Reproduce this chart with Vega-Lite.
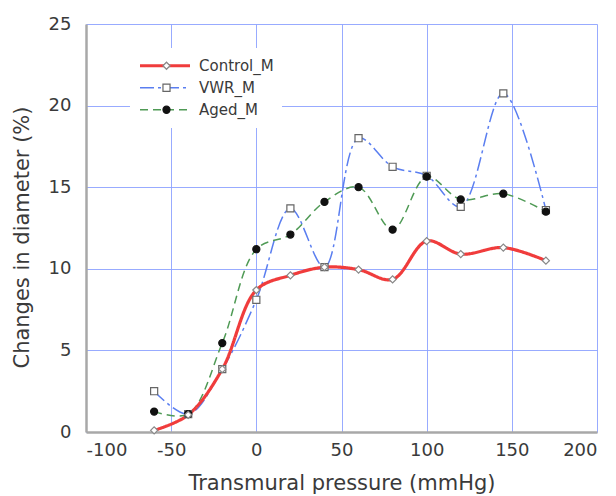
{
  "$schema": "https://vega.github.io/schema/vega-lite/v6.json",
  "width": 511,
  "height": 408,
  "autosize": "none",
  "padding": {"left": 86, "top": 24, "right": 19, "bottom": 64},
  "background": "white",
  "config": {
    "view": {"stroke": null},
    "font": "DejaVu Sans",
    "axis": {
      "gridColor": "#8da2ff",
      "gridWidth": 1,
      "gridOpacity": 0.9,
      "domainColor": "#a8a8a8",
      "domainWidth": 2.5,
      "ticks": false,
      "labelFont": "DejaVu Sans",
      "labelFontSize": 18,
      "labelColor": "#3a3a3a",
      "labelExpr": "replace(datum.label, '\u2212', '-')",
      "titleFont": "DejaVu Sans",
      "titleFontWeight": "normal",
      "titleColor": "#3a3a3a"
    }
  },
  "data": {
    "values": [
      {"series": "VWR_M", "p": -60, "d": 2.5},
      {"series": "VWR_M", "p": -40, "d": 1.1},
      {"series": "VWR_M", "p": -20, "d": 3.85},
      {"series": "VWR_M", "p": 0, "d": 8.1},
      {"series": "VWR_M", "p": 20, "d": 13.7},
      {"series": "VWR_M", "p": 40, "d": 10.1},
      {"series": "VWR_M", "p": 60, "d": 18.0},
      {"series": "VWR_M", "p": 80, "d": 16.25},
      {"series": "VWR_M", "p": 100, "d": 15.7},
      {"series": "VWR_M", "p": 120, "d": 13.8},
      {"series": "VWR_M", "p": 145, "d": 20.75},
      {"series": "VWR_M", "p": 170, "d": 13.6},
      {"series": "Aged_M", "p": -60, "d": 1.25},
      {"series": "Aged_M", "p": -40, "d": 1.1},
      {"series": "Aged_M", "p": -20, "d": 5.45},
      {"series": "Aged_M", "p": 0, "d": 11.2},
      {"series": "Aged_M", "p": 20, "d": 12.1},
      {"series": "Aged_M", "p": 40, "d": 14.1},
      {"series": "Aged_M", "p": 60, "d": 15.0},
      {"series": "Aged_M", "p": 80, "d": 12.4},
      {"series": "Aged_M", "p": 100, "d": 15.65},
      {"series": "Aged_M", "p": 120, "d": 14.25},
      {"series": "Aged_M", "p": 145, "d": 14.6},
      {"series": "Aged_M", "p": 170, "d": 13.5},
      {"series": "Control_M", "p": -60, "d": 0.1},
      {"series": "Control_M", "p": -40, "d": 1.05},
      {"series": "Control_M", "p": -20, "d": 3.85},
      {"series": "Control_M", "p": 0, "d": 8.7},
      {"series": "Control_M", "p": 20, "d": 9.6},
      {"series": "Control_M", "p": 40, "d": 10.1},
      {"series": "Control_M", "p": 60, "d": 9.95},
      {"series": "Control_M", "p": 80, "d": 9.35},
      {"series": "Control_M", "p": 100, "d": 11.7},
      {"series": "Control_M", "p": 120, "d": 10.9},
      {"series": "Control_M", "p": 145, "d": 11.3},
      {"series": "Control_M", "p": 170, "d": 10.5}
    ]
  },
  "encoding": {
    "x": {
      "field": "p",
      "type": "quantitative",
      "scale": {"domain": [-100, 200], "nice": false, "zero": false},
      "axis": {
        "title": "Transmural pressure (mmHg)",
        "titleFontSize": 21,
        "values": [-100, -50, 0, 50, 100, 150, 200],
        "labelPadding": 9,
        "titlePadding": 13
      }
    },
    "y": {
      "field": "d",
      "type": "quantitative",
      "scale": {"domain": [0, 25], "nice": false},
      "axis": {
        "title": "Changes in diameter (%)",
        "titleFontSize": 21,
        "titleY": 213,
        "values": [0, 5, 10, 15, 20, 25],
        "labelPadding": 15,
        "titlePadding": 16
      }
    }
  },
  "layer": [
    {
      "mark": {"type": "line", "interpolate": "catmull-rom"},
      "encoding": {
        "color": {
          "field": "series",
          "type": "nominal",
          "scale": {"domain": ["Control_M", "VWR_M", "Aged_M", "_"], "range": ["#f03c3c", "#5a7ef0", "#4f9a55", "#000000"]},
          "legend": {
            "title": null,
            "orient": "none",
            "legendX": 44,
            "legendY": 24,
            "padding": 8,
            "values": ["Control_M", "VWR_M", "Aged_M"],
            "fillColor": "white",
            "symbolSize": 2500,
            "symbolType": "stroke",
            "clipHeight": 19.5,
            "rowPadding": 2,
            "labelOffset": 7,
            "labelFont": "DejaVu Sans",
            "labelFontSize": 15,
            "labelColor": "#3a3a3a"
          }
        },
        "strokeDash": {
          "field": "series",
          "type": "nominal",
          "scale": {"domain": ["Control_M", "VWR_M", "Aged_M", "_"], "range": [[1, 0], [14, 4, 3, 4], [8, 5], [1, 0]]}
        },
        "strokeWidth": {
          "field": "series",
          "type": "nominal",
          "scale": {"type": "ordinal", "domain": ["Control_M", "VWR_M", "Aged_M", "_"], "range": [3.2, 1.5, 1.5, 1]}
        }
      }
    },
    {
      "mark": {"type": "point", "filled": true, "strokeWidth": 1.2, "size": 50, "opacity": 1},
      "encoding": {
        "shape": {
          "field": "series",
          "type": "nominal",
          "scale": {"domain": ["Control_M", "VWR_M", "Aged_M"], "range": ["diamond", "square", "circle"]},
          "legend": {
            "title": null,
            "orient": "none",
            "legendX": 44,
            "legendY": 24,
            "padding": 8,
            "symbolOffset": 21,
            "symbolSize": 50,
            "symbolStrokeWidth": 1.2,
            "clipHeight": 19.5,
            "rowPadding": 2,
            "labelExpr": "''",
            "labelFontSize": 15
          }
        },
        "fill": {
          "field": "series",
          "type": "nominal",
          "scale": {"domain": ["Control_M", "VWR_M", "Aged_M"], "range": ["#ffffff", "#ffffff", "#111111"]}
        },
        "stroke": {
          "field": "series",
          "type": "nominal",
          "scale": {"domain": ["Control_M", "VWR_M", "Aged_M"], "range": ["#888888", "#666666", "#111111"]}
        }
      }
    }
  ]
}
